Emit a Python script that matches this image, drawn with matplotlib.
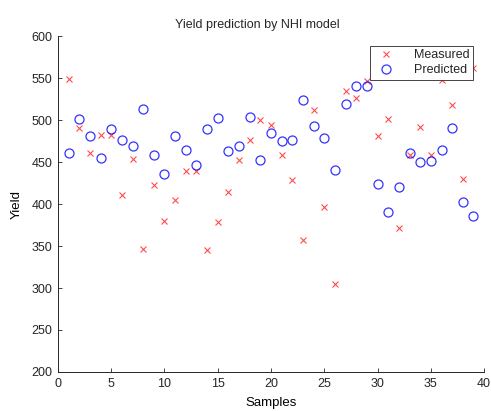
import matplotlib
matplotlib.use("Agg")
import matplotlib.pyplot as plt
import numpy as np

# ── Data ───────────────────────────────────────────────────────
samples = np.arange(1, 40)
measured = [549, 491, 461, 482, 482, 411, 454, 347, 423, 380,
            405, 439, 439, 345, 379, 414, 453, 476, 500, 494,
            458, 429, 357, 512, 397, 305, 535, 526, 546, 481,
            501, 371, 459, 492, 459, 548, 518, 430, 562]
predicted = [461, 501, 481, 455, 489, 476, 469, 513, 458, 436,
             481, 464, 447, 490, 503, 463, 469, 504, 453, 485,
             475, 476, 524, 493, 479, 440, 519, 541, 541, 424,
             391, 420, 461, 450, 451, 464, 491, 403, 386]

AX_COLOR = "#262626"

plt.rcParams.update({
    "font.family": ["Liberation Sans", "DejaVu Sans"],
    "axes.edgecolor": AX_COLOR,
    "xtick.color": AX_COLOR,
    "ytick.color": AX_COLOR,
    "text.color": AX_COLOR,
})

fig = plt.figure(figsize=(4.91, 4.11), dpi=100)
ax = fig.add_axes([0.118, 0.095, 0.868, 0.817])

ax.plot(samples, measured, "x", color="#ff0000", markersize=4.5,
        markeredgewidth=0.8, alpha=0.7, label="Measured")
ax.plot(samples, predicted, "o", color="#0000ff", markersize=6.5,
        markerfacecolor="none", markeredgewidth=0.9, alpha=0.8,
        label="Predicted")

ax.set_xlim(0, 40)
ax.set_ylim(200, 600)
ax.set_xticks(np.arange(0, 41, 5))
ax.set_yticks(np.arange(200, 601, 50))
ax.tick_params(direction="in", length=3, width=0.6, labelsize=9, pad=4)

for side in ("top", "right"):
    ax.spines[side].set_visible(False)
for side in ("left", "bottom"):
    ax.spines[side].set_linewidth(0.7)

ax.set_xlabel("Samples", fontsize=9.5, labelpad=5.5)
ax.set_ylabel("Yield", fontsize=9.5, labelpad=6)
ax.set_title("Yield prediction by NHI model", fontsize=9, pad=6, x=0.467)

leg = ax.legend(loc="upper right", bbox_to_anchor=(0.974, 0.972),
                fontsize=9, fancybox=False, framealpha=1,
                edgecolor=AX_COLOR, borderpad=0.3, handletextpad=1.2,
                labelspacing=0.25, borderaxespad=0, handlelength=2.0)
leg.get_frame().set_linewidth(0.6)

plt.savefig("out.png", dpi=100)
plt.close()
